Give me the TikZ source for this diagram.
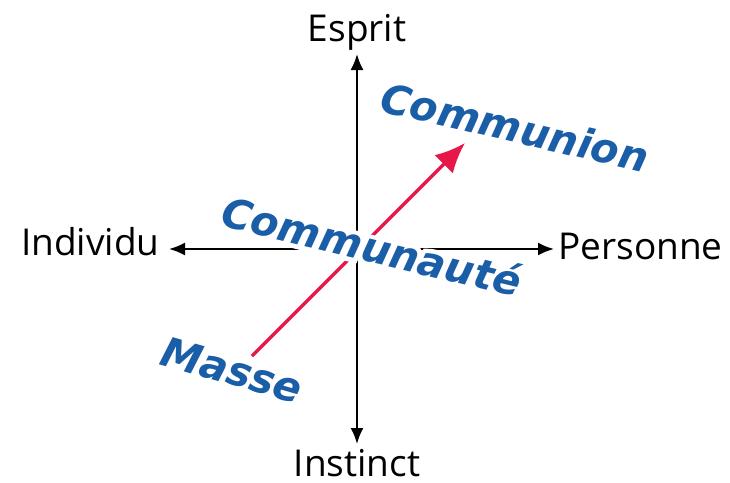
\documentclass[tikz,border=0pt]{standalone}
\usepackage{fontspec}
\setmainfont{Open Sans}
\newfontface\grasfont{DejaVu Sans Bold Oblique}
\newfontface\halofont{DejaVu Sans Bold Oblique}[FakeBold=22]
\usetikzlibrary{arrows.meta}
\definecolor{bleu}{HTML}{1A5EA8}
\definecolor{rouge}{HTML}{E8174A}
\newcommand\avechalo[1]{\rlap{\color{white}\halofont #1}#1}
\tikzset{
  pole/.style={font=\fontsize{18.5}{22}\selectfont,inner sep=2pt,text height=14pt,text depth=4pt},
  degre/.style={font=\grasfont\fontsize{20.5}{24}\selectfont,text=bleu,inner sep=0pt},
  axe/.style={{Latex[length=8pt,width=6.5pt]}-{Latex[length=8pt,width=6.5pt]},line width=1pt},
  montee/.style={-{Latex[length=15pt,width=13pt]},line width=1.6pt,color=rouge}
}
\begin{document}
\begin{tikzpicture}[x=0.5pt,y=-0.5pt]
  \useasboundingbox (0,0) rectangle (730,483);
  % les quatre poles
  \node[pole,anchor=south] (esprit) at (357,54) {Esprit};
  \node[pole,anchor=north] (instinct) at (357,444) {Instinct};
  \node[pole,anchor=east] (individu) at (164,245) {Individu};
  \node[pole,anchor=west] (personne) at (554,249) {Personne};
  \draw[axe] (esprit.south) -- (instinct.north);
  \draw[axe,shorten <=2.5pt] (individu.east |- personne.west) -- (personne.west);
  % la montee
  \coordinate (bas) at (252,356);
  \coordinate (haut) at (465,143);
  \draw[montee] (bas) -- (haut);
  % les trois degres
  \node[degre,rotate=-13] (communion) at (515,127) {\avechalo{Communion}};
  \node[degre,rotate=-13.5] (communaute) at (372,246) {\avechalo{Communauté}};
  \node[degre,rotate=-16] (masse) at (232,370) {\avechalo{Masse}};
\end{tikzpicture}
\end{document}
